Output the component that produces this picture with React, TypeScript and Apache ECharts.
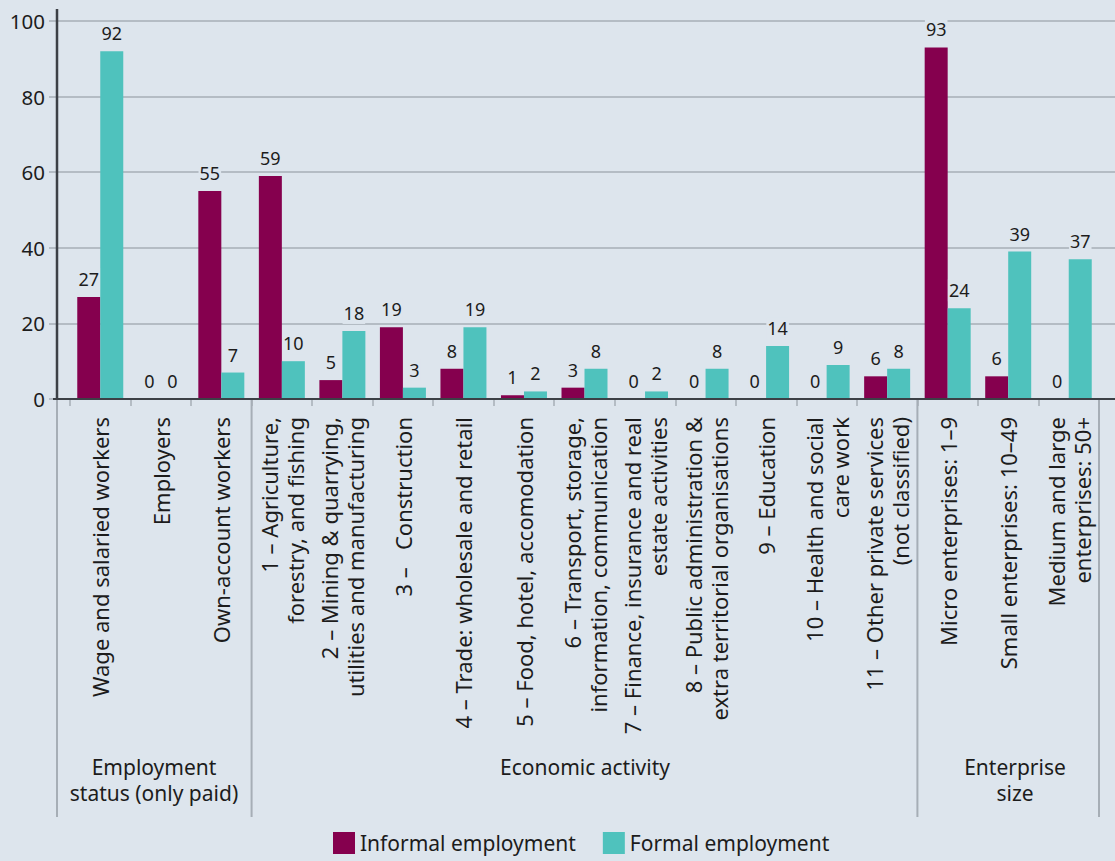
import React, { useEffect, useRef } from "react";
import * as echarts from "echarts";

const categories = [
  "Wage and salaried workers",
  "Employers",
  "Own-account workers",
  "1 – Agriculture,\nforestry, and fishing",
  "2 – Mining & quarrying,\nutilities and manufacturing",
  "3 –   Construction",
  "4 – Trade: wholesale and retail",
  "5 – Food, hotel, accomodation",
  "6 – Transport, storage,\ninformation, communication",
  "7 – Finance, insurance and real\nestate activities",
  "8 – Public administration &\nextra territorial organisations",
  "9 – Education",
  "10 – Health and social\ncare work",
  "11 – Other private services\n(not classified)",
  "Micro enterprises: 1–9",
  "Small enterprises: 10–49",
  "Medium and large\nenterprises: 50+",
];

const informal = [27, 0, 55, 59, 5, 19, 8, 1, 3, 0, 0, 0, 0, 6, 93, 6, 0];
const formal = [92, 0, 7, 10, 18, 3, 19, 2, 8, 2, 8, 14, 9, 8, 24, 39, 37];

const groups = [
  { lines: ["Employment", "status (only paid)"], start: 0, end: 3 },
  { lines: ["Economic activity"], start: 3, end: 14 },
  { lines: ["Enterprise", "size"], start: 14, end: 17 },
];

const yTicks = [0, 20, 40, 60, 80, 100];

const BG = "#dde5ed";
const GRID = "#a6aeb6";
const AXIS = "#3c4046";
const TEXT = "#1c1c1c";
const FONT = "Noto Sans";

export default function App() {
  const ref = useRef<HTMLDivElement>(null);
  useEffect(() => {
    if (!ref.current) return;
    const chart = echarts.init(ref.current, undefined, { renderer: "svg" });
    const W = 1115;
    const plotLeft = 70;
    const plotRight = 1099;
    const axisY = 399;
    const catW = (plotRight - plotLeft) / categories.length;
    const sepXs = [57, ...groups.slice(0, -1).map((g) => plotLeft + g.end * catW), plotRight];
    const labelCenters = [154, 585, 1015];

    const label = {
      show: true,
      position: "top",
      distance: 7,
      fontSize: 18,
      fontFamily: FONT,
      color: TEXT,
      backgroundColor: BG,
      padding: [2, 1],
    };

    const groupTexts: any[] = [];
    groups.forEach((g, i) => {
      g.lines.forEach((line, j) => {
        groupTexts.push({
          type: "text",
          z: 10,
          x: labelCenters[i],
          y: 767 + j * 26,
          style: {
            text: line,
            fontSize: 21,
            fontFamily: FONT,
            fill: TEXT,
            align: "center",
            verticalAlign: "middle",
          },
        });
      });
    });

    chart.setOption({
      animation: false,
      backgroundColor: BG,
      textStyle: { fontFamily: FONT },
      grid: [
        { left: 57, right: 0, top: 21, bottom: 861 - axisY },
        { left: plotLeft, right: W - plotRight, top: 21, bottom: 861 - axisY },
      ],
      xAxis: [
        { type: "value", gridIndex: 0, show: false, min: 0, max: 1 },
        {
          type: "category",
          gridIndex: 1,
          data: categories,
          axisLine: { show: false },
          axisTick: { show: true, length: 7, lineStyle: { color: GRID, width: 1.5 } },
          axisLabel: {
            interval: 0,
            rotate: 90,
            margin: 18,
            fontSize: 22,
            lineHeight: 26,
            fontFamily: FONT,
            color: TEXT,
          },
        },
      ],
      yAxis: [
        {
          type: "value",
          gridIndex: 0,
          min: 0,
          max: 100,
          interval: 20,
          axisLine: { show: false },
          axisTick: { show: true, length: 8, lineStyle: { color: GRID, width: 1.5 } },
          axisLabel: {
            margin: 12,
            fontSize: 20.5,
            fontFamily: FONT,
            color: TEXT,
            formatter: (v: number) => (yTicks.includes(v) ? String(v) : ""),
          },
          splitLine: { show: true, lineStyle: { color: GRID, width: 1.5 } },
        },
        { type: "value", gridIndex: 1, min: 0, max: 100, interval: 20, show: false },
      ],
      legend: {
        left: 333,
        top: 832,
        padding: 0,
        itemWidth: 22,
        itemHeight: 22,
        itemGap: 27,
        icon: "rect",
        textStyle: { fontSize: 21, fontFamily: FONT, color: TEXT },
        data: ["Informal employment", "Formal employment"],
      },
      series: [
        {
          name: "Informal employment",
          type: "bar",
          xAxisIndex: 1,
          yAxisIndex: 1,
          data: informal,
          barWidth: 23,
          barGap: "0%",
          itemStyle: { color: "#85004e" },
          label,
        },
        {
          name: "Formal employment",
          type: "bar",
          xAxisIndex: 1,
          yAxisIndex: 1,
          data: formal,
          barWidth: 23,
          barGap: "0%",
          itemStyle: { color: "#4fc2bd" },
          label,
        },
      ],
      graphic: [
        ...sepXs.map((x) => ({
          type: "line",
          z: 1,
          shape: { x1: x, y1: axisY, x2: x, y2: 817 },
          style: { stroke: GRID, lineWidth: 2 },
        })),
        {
          type: "line",
          z: 10,
          shape: { x1: 57, y1: 9, x2: 57, y2: axisY },
          style: { stroke: AXIS, lineWidth: 2.5 },
        },
        {
          type: "line",
          z: 10,
          shape: { x1: 53, y1: axisY, x2: W, y2: axisY },
          style: { stroke: AXIS, lineWidth: 2 },
        },
        ...groupTexts,
      ],
    });
    return () => chart.dispose();
  }, []);
  return (
    <div
      ref={ref}
      style={{ position: "fixed", left: 0, top: 0, width: 1115, height: 861 }}
    />
  );
}
